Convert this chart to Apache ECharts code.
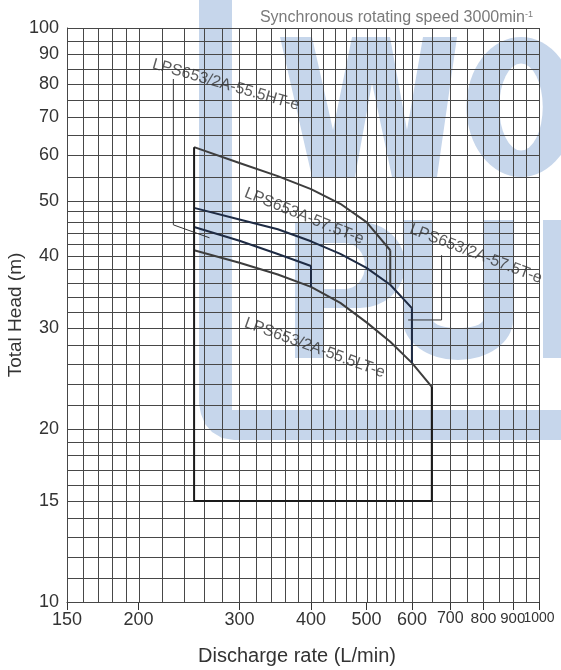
<!DOCTYPE html>
<html><head><meta charset="utf-8">
<script src="https://cdn.jsdelivr.net/npm/echarts@6/dist/echarts.min.js"></script>
<style>html,body{margin:0;padding:0;background:#fff}#c{width:561px;height:670px}</style>
</head><body><div id="c"></div>
<script>
// ---- axis grid / tick values ----
const xGrid = [150,160,170,180,190,200,220,240,260,280,300,320,340,360,380,400,420,440,460,480,500,520,540,560,580,600,650,700,750,800,850,900,950,1000];
const yGrid = [10,11,12,13,14,15,16,17,18,19,20,22,24,26,28,30,32,34,36,38,40,42,44,46,48,50,55,60,65,70,75,80,85,90,95,100];
const xLabels = [150,200,300,400,500,600,700,800,900];
const xLastLabel = [1000];
const yLabels = [10,15,20,30,40,50,60,70,80,90,100];
const xMin = 150, xMax = 1000, yMin = 10, yMax = 100;

// ---- performance curves (flow L/min, head m) ----
const flowA57 = [250,300,350,400,450,500,550];
const headA57 = [62.0,58.2,55.2,52.4,49.4,45.9,41.0];
const flow2A57 = [250,300,350,400,450,500,550,600];
const head2A57 = [48.6,46.4,44.6,42.5,40.4,38.2,35.7,32.5];
const flowHT = [250,300,350,400];
const headHT = [45.0,42.6,40.4,38.5];
const flowLT = [250,300,350,400,450,500,550,600,650];
const headLT = [41.0,39.0,37.2,35.4,33.2,30.7,28.4,26.1,23.7];
const minHead = 15;

// ---- annotations ----
const modelNames = ['LPS653/2A-55.5HT-e','LPS653A-57.5T-e','LPS653/2A-57.5T-e','LPS653/2A-55.5LT-e'];
const labelFlow = [284, 389, 776, 406];
const labelHead = [79.6, 47.0, 40.4, 27.7];
const leaderHTFlow = [230,230,266];
const leaderHTHead = [81.5,45.4,43.1];
const leader2A57Flow = [676,676,591];
const leader2A57Head = [40.2,31.0,31.0];

const zip = (a,b) => a.map((v,i)=>[v,b[i]]);
const last = a => a[a.length-1];

const curveA57 = zip(flowA57, headA57);
const curve2A57 = zip(flow2A57, head2A57);
const curveHT = zip(flowHT, headHT);
const curveLT = zip(flowLT, headLT);
const dropA57 = [[last(flowA57), last(headA57)], [flow2A57[flowA57.length-1], head2A57[flowA57.length-1]]];
const drop2A57 = [[last(flow2A57), last(head2A57)], [flowLT[flow2A57.length-1], headLT[flow2A57.length-1]]];
const dropHT = [[last(flowHT), last(headHT)], [flowLT[flowHT.length-1], headLT[flowHT.length-1]]];
const box = [[flowA57[0], headA57[0]], [flowA57[0], minHead], [last(flowLT), minHead], [last(flowLT), last(headLT)]];

const FONT = 'Liberation Sans, Arial, sans-serif';
const GREY = '#3d3d3d', NAVY = '#1e2b44', GRIDC = '#474747';
const labelAngles = [-16, -22, -21, -20];

function lineSeries(data, color, width) {
  return { type:'line', data, symbol:'none', smooth:false,
    lineStyle:{color, width}, xAxisIndex:0, yAxisIndex:0, z:3, silent:true };
}
const crisp = v => Math.round(v) + 0.5;

const gridSeries = {
  type:'custom', silent:true, z:1, clip:false, xAxisIndex:0, yAxisIndex:0,
  data: xGrid.map(v=>[v, yMin, 0]).concat(yGrid.map(v=>[xMin, v, 1])),
  renderItem: function(params, api){
    const isH = api.value(2) === 1;
    let p1, p2;
    if (!isH) {
      const v = api.value(0);
      p1 = api.coord([v, yMin]); p2 = api.coord([v, yMax]);
      const x = crisp(p1[0]);
      return {type:'line', shape:{x1:x, y1:p1[1], x2:x, y2:p2[1]}, style:{stroke:GRIDC, lineWidth:1}};
    } else {
      const v = api.value(1);
      p1 = api.coord([xMin, v]); p2 = api.coord([xMax, v]);
      const y = crisp(p1[1]);
      return {type:'line', shape:{x1:p1[0], y1:y, x2:p2[0], y2:y}, style:{stroke:GRIDC, lineWidth:1}};
    }
  }
};

const chart = echarts.init(document.getElementById('c'), null, {renderer:'canvas'});
const wm = '#c6d6eb';
const xAxisBase = {type:'log', logBase:10, min:xMin, max:xMax + 0.01, position:'bottom',
  minorTick:{show:false}, minorSplitLine:{show:false}, splitLine:{show:false}};
const xLabelStyle = {margin:9, fontFamily:FONT, color:'#333', hideOverlap:false, showMaxLabel:true, showMinLabel:true,
  formatter:function(v){ v=Math.round(v); const s={700:'b',800:'c',900:'d',1000:'e'}[v]||'a'; return '{'+s+'|'+v+'}'; },
  rich:{a:{fontSize:18,fontFamily:FONT,color:'#333'}, b:{fontSize:16,fontFamily:FONT,color:'#333'}, c:{fontSize:15.5,fontFamily:FONT,color:'#333'}, d:{fontSize:15,fontFamily:FONT,color:'#333'}, e:{fontSize:14,fontFamily:FONT,color:'#333'}}};
chart.setOption({
  animation:false,
  backgroundColor:'#fff',
  title:{
    text:'Synchronous rotating speed 3000min{sup|-1}',
    right:23, top:5,
    textStyle:{fontFamily:FONT, fontSize:16, fontWeight:'normal', color:'#7a7a7a',
      rich:{sup:{fontFamily:FONT, fontSize:9, color:'#7a7a7a', verticalAlign:'top', lineHeight:10}}}
  },
  graphic:{elements:[
    {type:'polygon', z:-1, shape:{points:[[199,0],[232,0],[232,410],[561,410],[561,440],[234,440],[222,438],[212,432],[205,424],[201,414],[199,404]]}, style:{fill:wm}},
    {type:'polygon', z:-1, shape:{points:[[280,37],[312,37],[333,130],[352,37],[390,37],[407,130],[423,37],[457,37],[437,177],[392,177],[372,83],[355,177],[312,177]]}, style:{fill:wm}},
    {type:'circle', z:-1, x:521, y:107, scaleX:0.78, shape:{cx:0,cy:0,r:70}, style:{fill:wm}},
    {type:'circle', z:-1, x:521, y:107, scaleX:0.5, shape:{cx:0,cy:0,r:43.5}, style:{fill:'#fff'}},
    {type:'rect', z:-1, shape:{x:295,y:222,width:28,height:136}, style:{fill:wm}},
    {type:'rect', z:-1, shape:{x:295,y:222,width:65,height:86}, style:{fill:wm}},
    {type:'circle', z:-1, x:360, y:265, scaleX:1.05, shape:{cx:0,cy:0,r:43}, style:{fill:wm}},
    {type:'rect', z:-1, shape:{x:323,y:243,width:22,height:46}, style:{fill:'#fff'}},
    {type:'circle', z:-1, x:345, y:266, scaleX:0.87, shape:{cx:0,cy:0,r:23}, style:{fill:'#fff'}},
    {type:'circle', z:-1, x:458, y:320, scaleY:40/55, shape:{cx:0,cy:0,r:55}, style:{fill:wm}},
    {type:'rect', z:-1, shape:{x:403,y:220,width:30,height:100}, style:{fill:wm}},
    {type:'rect', z:-1, shape:{x:483,y:220,width:30,height:100}, style:{fill:wm}},
    {type:'rect', z:-1, shape:{x:433,y:220,width:50,height:100}, style:{fill:'#fff'}},
    {type:'circle', z:-1, x:458, y:320, scaleY:8/25, shape:{cx:0,cy:0,r:25}, style:{fill:'#fff'}},
    {type:'rect', z:-1, shape:{x:543,y:220,width:18,height:138}, style:{fill:wm}}
  ]},
  grid:{left:67, right:22, top:28, bottom:68, containLabel:false, outerBoundsMode:'none'},
  xAxis:[Object.assign({}, xAxisBase, {
    axisLine:{show:true, onZero:false, lineStyle:{color:'#333', width:1}},
    axisTick:{show:true, customValues:xLabels.concat(xLastLabel), length:8, lineStyle:{color:'#333', width:1}},
    axisLabel:Object.assign({customValues:xLabels}, xLabelStyle),
    name:'Discharge rate (L/min)', nameLocation:'middle', nameGap:44, nameMoveOverlap:false,
    nameTextStyle:{fontFamily:FONT, fontSize:20, color:'#333', padding:[0,12,0,0]}
  }), Object.assign({}, xAxisBase, {
    axisLine:{show:false}, axisTick:{show:false},
    axisLabel:Object.assign({customValues:xLastLabel}, xLabelStyle)
  })],
  yAxis:[{
    type:'log', logBase:10, min:yMin, max:yMax,
    axisLine:{show:true, onZero:false, lineStyle:{color:'#333', width:1}},
    axisTick:{show:false, customValues:yLabels},
    minorTick:{show:false}, minorSplitLine:{show:false},
    splitLine:{show:false},
    axisLabel:{customValues:yLabels, margin:8, fontFamily:FONT, fontSize:18, color:'#333', showMaxLabel:true, showMinLabel:true,
      formatter:function(v){ return String(Math.round(v)); }},
    name:'Total Head (m)', nameLocation:'middle', nameGap:42, nameMoveOverlap:false,
    nameTextStyle:{fontFamily:FONT, fontSize:19, color:'#333'}
  }],
  series:[
    gridSeries,
    lineSeries(curveA57, GREY, 2),
    lineSeries(curve2A57, NAVY, 2),
    lineSeries(curveHT, NAVY, 2),
    lineSeries(curveLT, GREY, 2),
    lineSeries(dropA57, GREY, 2),
    lineSeries(drop2A57, NAVY, 2),
    lineSeries(dropHT, NAVY, 2),
    lineSeries(box, '#1a1a1a', 2),
    lineSeries(zip(leaderHTFlow, leaderHTHead), '#333', 1),
    lineSeries(zip(leader2A57Flow, leader2A57Head), '#333', 1),
    { type:'scatter', symbolSize:0, silent:true, z:4,
      data: modelNames.map((n,i)=>({ value:[labelFlow[i], labelHead[i]], name:n,
        label:{ show:true, position:'inside', formatter:n, rotate:labelAngles[i], align:'center', verticalAlign:'middle',
          fontFamily:FONT, fontSize:16, color:'#333' } })) }
  ]
});
</script></body></html>
